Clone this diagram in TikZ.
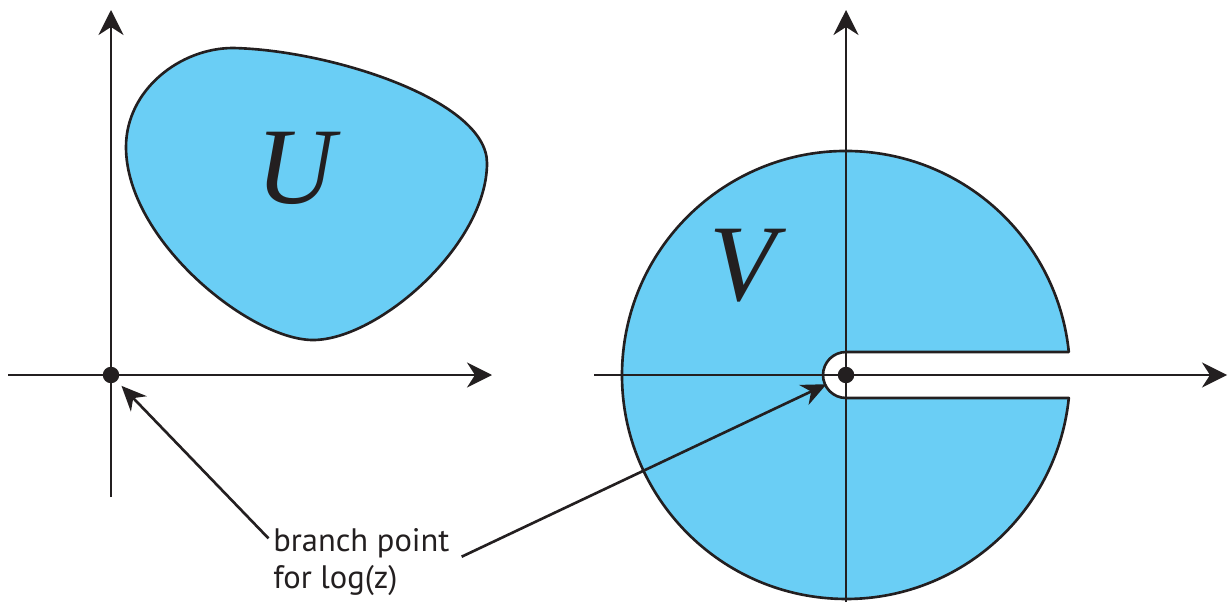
\documentclass[tikz,border=0pt]{standalone}
\usepackage{fontspec}
\setmainfont{PT Sans}
\newfontfamily\letterfont{Liberation Serif}
\usetikzlibrary{arrows.meta}
\definecolor{ink}{RGB}{35,31,32}
\definecolor{regionblue}{RGB}{106,206,245}

\begin{document}
\begin{tikzpicture}[
  x=0.02cm, y=-0.02cm,
  line width=1.5pt, line join=round, draw=ink,
  axis/.style={draw=ink, -{Stealth[length=5mm, width=5mm, inset=1.6mm]}},
  region/.style={fill=regionblue, draw=ink},
  dot/.style={circle, fill=ink, inner sep=0pt, minimum size=3.3mm},
  pointer/.style={draw=ink, -{Stealth[length=5mm, width=4.4mm, inset=1.6mm]}},
  big/.style={font=\letterfont\itshape\fontsize{62}{64}\selectfont, text=ink, inner sep=0pt, anchor=base},
  lbltext/.style={font=\fontsize{18.5}{21}\selectfont, align=left, inner sep=0pt, text=ink}
]
\useasboundingbox (0,0) rectangle (1229,604);

% the region U
\draw[region] (233,48) .. controls (330,50) and (487,100) .. (487,163)
  .. controls (487,245) and (378,340) .. (313,340)
  .. controls (250,340) and (126,240) .. (126,147)
  .. controls (126,90) and (180,48) .. (233,48) -- cycle;
\node[big] (u) at (296,204) {U};

% the slit region V
\draw[region] (1068.8,352) -- (846,352) arc (270:90:23) -- (1068.8,398)
  arc (5.9:354.1:224) -- cycle;
\node[big] (v) at (743,300) {V};

% axes
\draw[axis] (8,375) -- (492,375);
\draw[axis] (111,497) -- (111,10);
\draw[axis] (594,375) -- (1227,375);
\draw[axis] (846,602) -- (846,10);

\node[dot] (bp1) at (111,375) {};
\node[dot] (bp2) at (846,375) {};

\node[lbltext, anchor=north west] (lbl) at (272,527) {branch point\\for log(z)};
\draw[pointer, shorten <=1mm, shorten >=1.1mm] ([yshift=-3mm]lbl.north west) -- (bp1);
\draw[pointer, shorten <=2.4mm, shorten >=2.4mm] (lbl.east) -- (bp2);
\end{tikzpicture}
\end{document}
